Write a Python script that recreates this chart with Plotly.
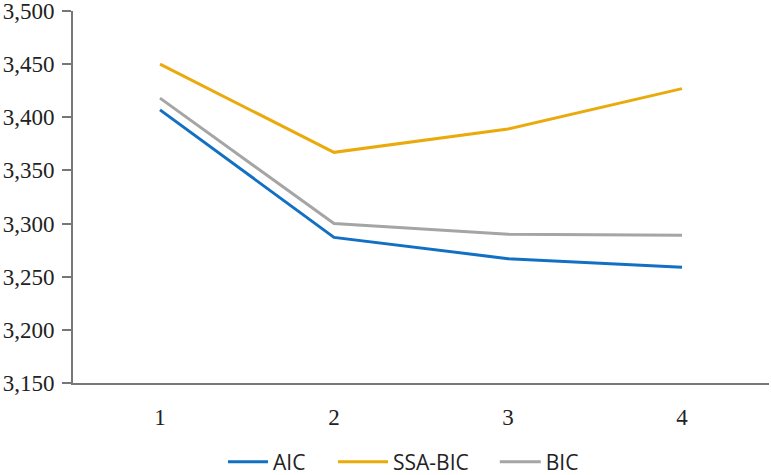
import plotly.graph_objects as go

categories = ["1", "2", "3", "4"]
aic = [3407, 3287, 3267, 3259]
ssa_bic = [3450, 3367, 3389, 3427]
bic = [3418, 3300, 3290, 3289]

fig = go.Figure()
fig.add_trace(go.Scatter(x=categories, y=aic, mode="lines", name="AIC", legend="legend2",
                         line=dict(color="#1170C4", width=3)))
fig.add_trace(go.Scatter(x=categories, y=ssa_bic, mode="lines", name="SSA-BIC", legend="legend3",
                         line=dict(color="#EAAA0B", width=3)))
fig.add_trace(go.Scatter(x=categories, y=bic, mode="lines", name="BIC", legend="legend4",
                         line=dict(color="#A5A5A5", width=3)))

legfont = dict(family="Open Sans", size=21, color="#222")
common = dict(orientation="h", yanchor="middle", yref="container", y=0.027,
              xanchor="left", font=legfont, bgcolor="rgba(0,0,0,0)")

fig.update_layout(
    width=771, height=475,
    margin=dict(l=73, r=2, t=11, b=92),
    plot_bgcolor="white", paper_bgcolor="white",
    font=dict(family="Liberation Serif", size=23, color="#222"),
    showlegend=True,
    legend2=dict(x=0.2155, itemwidth=40, **common),
    legend3=dict(x=0.3736, itemwidth=50, **common),
    legend4=dict(x=0.606, itemwidth=41, **common),
    xaxis=dict(type="category", range=[-0.5, 3.5], showgrid=False, automargin=False,
               showline=True, linecolor="#777", linewidth=2, ticks="",
               ticklabelstandoff=12, zeroline=False, ticklabeloverflow="allow"),
    yaxis=dict(range=[3150, 3500], dtick=50, tickformat=",", showgrid=False, automargin=False,
               showline=True, linecolor="#777", linewidth=2, ticks="outside",
               ticklen=9, tickcolor="#777", tickwidth=1.5, zeroline=False,
               ticklabelstandoff=3, ticklabeloverflow="allow"),
)

fig.write_html("out.html", config={"displayModeBar": False},
               post_script="document.body.style.margin='0';")
